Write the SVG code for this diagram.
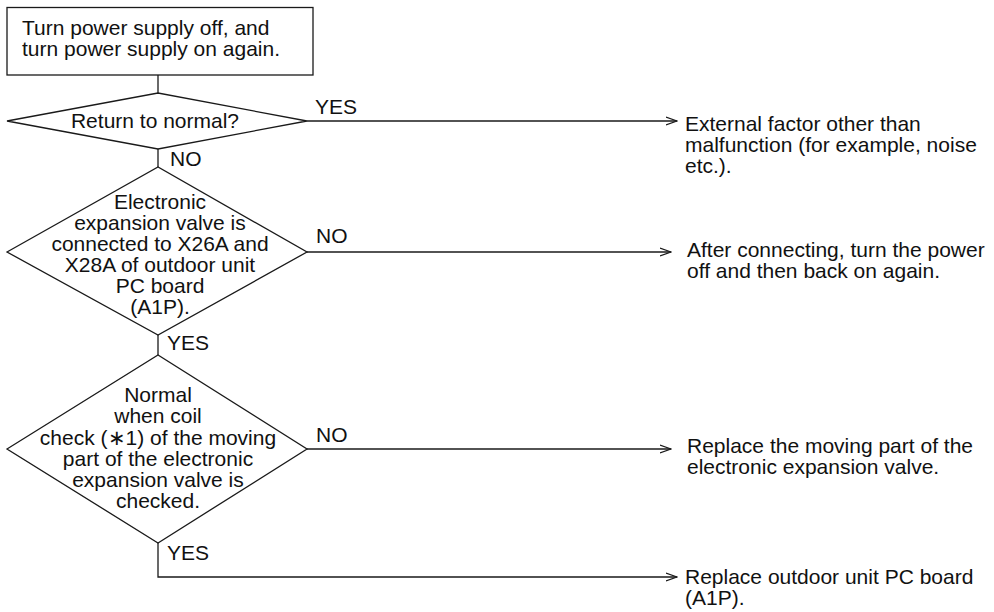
<svg xmlns="http://www.w3.org/2000/svg" width="994" height="612" viewBox="0 0 994 612">
<style>
.s{fill:none;stroke:#1a1a1a;stroke-width:1.3}
.b{fill:#fff;stroke:#1a1a1a;stroke-width:1.3}
text{font-family:"Liberation Sans",Arial,sans-serif;font-size:21px;fill:#111}
.c{text-anchor:middle}
</style>
<defs>
<marker id="ar" viewBox="0 0 12 10" refX="11" refY="5" markerWidth="12" markerHeight="10" markerUnits="userSpaceOnUse" orient="auto">
<path d="M0,1 L11,5 L0,9" fill="none" stroke="#1a1a1a" stroke-width="1.2"/>
</marker>
</defs>
<rect width="994" height="612" fill="#fff"/>
<g id="connectors">
<line class="s" x1="158" y1="75" x2="158" y2="93"/>
<line class="s" x1="158" y1="149" x2="158" y2="167"/>
<line class="s" x1="158" y1="335" x2="158" y2="355"/>
<polyline class="s" points="158,543 158,577 677,577" marker-end="url(#ar)"/>
<line class="s" x1="307" y1="121" x2="677" y2="121" marker-end="url(#ar)"/>
<line class="s" x1="307" y1="252" x2="671" y2="252" marker-end="url(#ar)"/>
<line class="s" x1="307" y1="449" x2="671" y2="449" marker-end="url(#ar)"/>
<text x="315" y="114">YES</text>
<text x="170" y="166">NO</text>
<text x="316" y="243">NO</text>
<text x="167" y="350">YES</text>
<text x="316" y="442">NO</text>
<text x="167" y="560">YES</text>
</g>
<g id="start">
<rect class="b" x="7" y="7.5" width="306" height="67.5"/>
<text x="22" y="35">Turn power supply off, and</text>
<text x="22" y="56">turn power supply on again.</text>
</g>
<g id="d1">
<polygon class="b" points="7,121 158,93 307,121 158,149"/>
<text class="c" x="155" y="128">Return to normal?</text>
</g>
<g id="d2">
<polygon class="b" points="7,252 158,167 307,252 158,335"/>
<text class="c" x="160" y="209">Electronic</text>
<text class="c" x="160" y="230">expansion valve is</text>
<text class="c" x="160" y="251">connected to X26A and</text>
<text class="c" x="160" y="272">X28A of outdoor unit</text>
<text class="c" x="160" y="293">PC board</text>
<text class="c" x="160" y="314">(A1P).</text>
</g>
<g id="d3">
<polygon class="b" points="7,449 158,355 307,449 158,543"/>
<text class="c" x="158" y="402">Normal</text>
<text class="c" x="158" y="423">when coil</text>
<text class="c" x="158" y="445">check (∗1) of the moving</text>
<text class="c" x="158" y="466">part of the electronic</text>
<text class="c" x="158" y="487">expansion valve is</text>
<text class="c" x="158" y="508">checked.</text>
</g>
<g id="r1">
<text x="685" y="131">External factor other than</text>
<text x="685" y="152">malfunction (for example, noise</text>
<text x="685" y="173">etc.).</text>
</g>
<g id="r2">
<text x="687" y="257">After connecting, turn the power</text>
<text x="687" y="278">off and then back on again.</text>
</g>
<g id="r3">
<text x="687" y="453">Replace the moving part of the</text>
<text x="687" y="474">electronic expansion valve.</text>
</g>
<g id="r4">
<text x="685" y="584">Replace outdoor unit PC board</text>
<text x="685" y="605">(A1P).</text>
</g>
</svg>
